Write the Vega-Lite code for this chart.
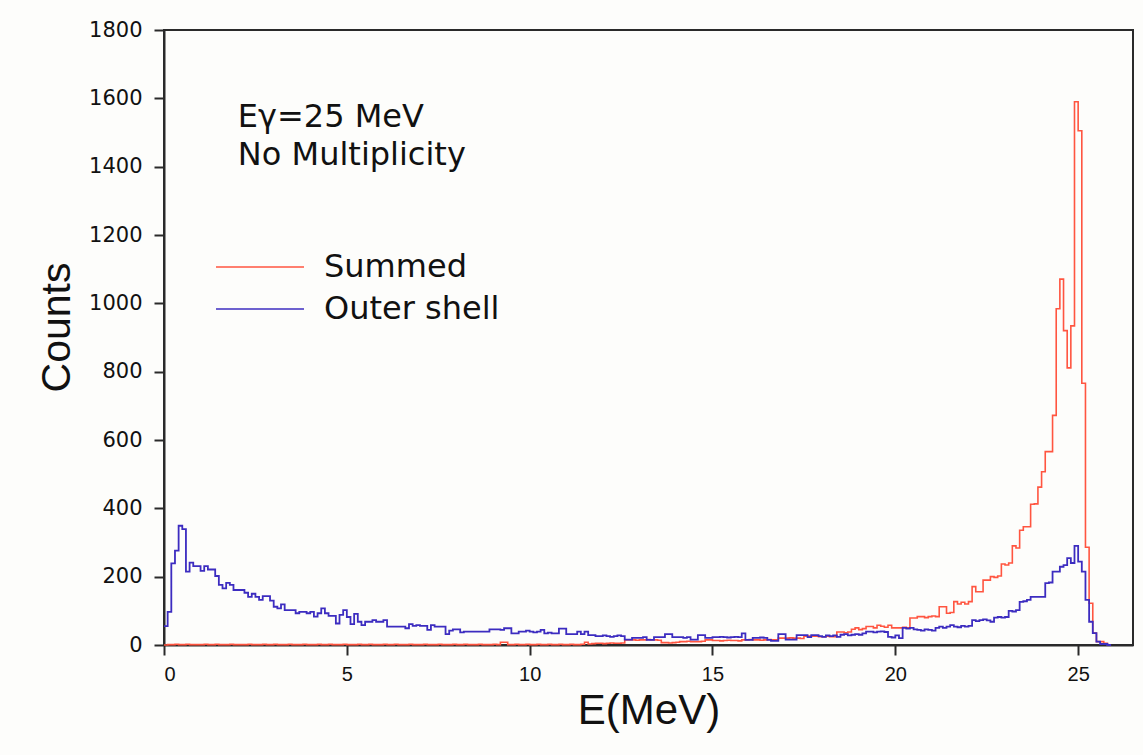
{
  "$schema": "https://vega.github.io/schema/vega-lite/v6.json",
  "width": 969,
  "height": 615,
  "autosize": {"type": "none"},
  "padding": {"left": 164, "top": 30, "right": 10, "bottom": 110},
  "background": "#fdfdfb",
  "config": {
    "view": {"stroke": "#2a2a2a", "strokeWidth": 2},
    "axis": {"grid": false, "domainColor": "#2a2a2a", "domainWidth": 2, "tickColor": "#2a2a2a", "tickWidth": 2, "tickSize": 10, "labelColor": "#111", "titleColor": "#111", "titleFontWeight": "normal"}
  },
  "data": {"values": [
    {"e":0.0,"o":55,"s":0},{"e":0.1,"o":97,"s":1},{"e":0.2,"o":239,"s":1},{"e":0.3,"o":276,"s":2},{"e":0.4,"o":349,"s":1},{"e":0.5,"o":339,"s":1},{"e":0.6,"o":215,"s":2},{"e":0.7,"o":241,"s":1},{"e":0.8,"o":231,"s":1},{"e":0.9,"o":231,"s":1},
    {"e":1.0,"o":217,"s":1},{"e":1.1,"o":231,"s":2},{"e":1.2,"o":221,"s":1},{"e":1.3,"o":221,"s":1},{"e":1.4,"o":202,"s":2},{"e":1.5,"o":176,"s":1},{"e":1.6,"o":166,"s":1},{"e":1.7,"o":182,"s":1},{"e":1.8,"o":176,"s":2},{"e":1.9,"o":161,"s":1},
    {"e":2.0,"o":161,"s":1},{"e":2.1,"o":161,"s":1},{"e":2.2,"o":153,"s":1},{"e":2.3,"o":141,"s":2},{"e":2.4,"o":150,"s":1},{"e":2.5,"o":141,"s":1},{"e":2.6,"o":132,"s":1},{"e":2.7,"o":143,"s":2},{"e":2.8,"o":143,"s":1},{"e":2.9,"o":130,"s":1},
    {"e":3.0,"o":112,"s":2},{"e":3.1,"o":107,"s":1},{"e":3.2,"o":119,"s":1},{"e":3.3,"o":102,"s":1},{"e":3.4,"o":102,"s":2},{"e":3.5,"o":102,"s":1},{"e":3.6,"o":93,"s":1},{"e":3.7,"o":97,"s":1},{"e":3.8,"o":97,"s":2},{"e":3.9,"o":93,"s":1},
    {"e":4.0,"o":97,"s":1},{"e":4.1,"o":83,"s":1},{"e":4.2,"o":93,"s":2},{"e":4.3,"o":107,"s":1},{"e":4.4,"o":93,"s":1},{"e":4.5,"o":85,"s":2},{"e":4.6,"o":85,"s":1},{"e":4.7,"o":63,"s":1},{"e":4.8,"o":88,"s":1},{"e":4.9,"o":102,"s":2},
    {"e":5.0,"o":82,"s":1},{"e":5.1,"o":61,"s":1},{"e":5.2,"o":91,"s":1},{"e":5.3,"o":68,"s":2},{"e":5.4,"o":58,"s":1},{"e":5.5,"o":68,"s":1},{"e":5.6,"o":68,"s":2},{"e":5.7,"o":73,"s":1},{"e":5.8,"o":68,"s":1},{"e":5.9,"o":68,"s":1},
    {"e":6.0,"o":73,"s":2},{"e":6.1,"o":54,"s":1},{"e":6.2,"o":54,"s":1},{"e":6.3,"o":54,"s":2},{"e":6.4,"o":54,"s":1},{"e":6.5,"o":54,"s":1},{"e":6.6,"o":49,"s":1},{"e":6.7,"o":61,"s":2},{"e":6.8,"o":56,"s":1},{"e":6.9,"o":58,"s":1},
    {"e":7.0,"o":56,"s":1},{"e":7.1,"o":56,"s":2},{"e":7.2,"o":44,"s":1},{"e":7.3,"o":58,"s":1},{"e":7.4,"o":54,"s":1},{"e":7.5,"o":54,"s":2},{"e":7.6,"o":54,"s":1},{"e":7.7,"o":32,"s":1},{"e":7.8,"o":42,"s":1},{"e":7.9,"o":46,"s":2},
    {"e":8.0,"o":46,"s":1},{"e":8.1,"o":37,"s":1},{"e":8.2,"o":39,"s":2},{"e":8.3,"o":39,"s":1},{"e":8.4,"o":39,"s":1},{"e":8.5,"o":39,"s":1},{"e":8.6,"o":39,"s":2},{"e":8.7,"o":39,"s":1},{"e":8.8,"o":39,"s":1},{"e":8.9,"o":46,"s":1},
    {"e":9.0,"o":46,"s":2},{"e":9.1,"o":46,"s":1},{"e":9.2,"o":44,"s":8},{"e":9.3,"o":49,"s":8},{"e":9.4,"o":49,"s":1},{"e":9.5,"o":34,"s":1},{"e":9.6,"o":34,"s":2},{"e":9.7,"o":39,"s":1},{"e":9.8,"o":39,"s":1},{"e":9.9,"o":42,"s":2},
    {"e":10.0,"o":39,"s":1},{"e":10.1,"o":37,"s":1},{"e":10.2,"o":39,"s":2},{"e":10.3,"o":44,"s":1},{"e":10.4,"o":34,"s":1},{"e":10.5,"o":36,"s":2},{"e":10.6,"o":34,"s":1},{"e":10.7,"o":34,"s":1},{"e":10.8,"o":48,"s":2},{"e":10.9,"o":48,"s":1},
    {"e":11.0,"o":32,"s":1},{"e":11.1,"o":32,"s":2},{"e":11.2,"o":32,"s":1},{"e":11.3,"o":39,"s":1},{"e":11.4,"o":32,"s":2},{"e":11.5,"o":39,"s":8},{"e":11.6,"o":29,"s":3},{"e":11.7,"o":29,"s":4},{"e":11.8,"o":26,"s":5},{"e":11.9,"o":26,"s":5},
    {"e":12.0,"o":28,"s":4},{"e":12.1,"o":26,"s":5},{"e":12.2,"o":24,"s":6},{"e":12.3,"o":26,"s":5},{"e":12.4,"o":28,"s":5},{"e":12.5,"o":26,"s":6},{"e":12.6,"o":16,"s":15},{"e":12.7,"o":16,"s":15},{"e":12.8,"o":21,"s":15},{"e":12.9,"o":21,"s":14},
    {"e":13.0,"o":21,"s":15},{"e":13.1,"o":23,"s":15},{"e":13.2,"o":15,"s":16},{"e":13.3,"o":15,"s":15},{"e":13.4,"o":23,"s":15},{"e":13.5,"o":23,"s":14},{"e":13.6,"o":23,"s":7},{"e":13.7,"o":32,"s":7},{"e":13.8,"o":32,"s":6},{"e":13.9,"o":23,"s":7},
    {"e":14.0,"o":23,"s":8},{"e":14.1,"o":23,"s":10},{"e":14.2,"o":21,"s":10},{"e":14.3,"o":23,"s":11},{"e":14.4,"o":16,"s":10},{"e":14.5,"o":16,"s":10},{"e":14.6,"o":29,"s":10},{"e":14.7,"o":29,"s":11},{"e":14.8,"o":21,"s":15},{"e":14.9,"o":21,"s":15},
    {"e":15.0,"o":23,"s":13},{"e":15.1,"o":23,"s":13},{"e":15.2,"o":24,"s":12},{"e":15.3,"o":23,"s":13},{"e":15.4,"o":22,"s":14},{"e":15.5,"o":23,"s":13},{"e":15.6,"o":24,"s":13},{"e":15.7,"o":23,"s":12},{"e":15.8,"o":34,"s":15},{"e":15.9,"o":15,"s":15},
    {"e":16.0,"o":15,"s":16},{"e":16.1,"o":21,"s":15},{"e":16.2,"o":21,"s":15},{"e":16.3,"o":22,"s":14},{"e":16.4,"o":21,"s":15},{"e":16.5,"o":15,"s":16},{"e":16.6,"o":12,"s":15},{"e":16.7,"o":12,"s":15},{"e":16.8,"o":32,"s":20},{"e":16.9,"o":32,"s":20},
    {"e":17.0,"o":16,"s":20},{"e":17.1,"o":16,"s":21},{"e":17.2,"o":16,"s":20},{"e":17.3,"o":29,"s":20},{"e":17.4,"o":29,"s":19},{"e":17.5,"o":29,"s":26},{"e":17.6,"o":23,"s":26},{"e":17.7,"o":29,"s":26},{"e":17.8,"o":29,"s":26},{"e":17.9,"o":26,"s":24},
    {"e":18.0,"o":24,"s":24},{"e":18.1,"o":28,"s":26},{"e":18.2,"o":26,"s":24},{"e":18.3,"o":28,"s":24},{"e":18.4,"o":24,"s":38},{"e":18.5,"o":30,"s":38},{"e":18.6,"o":32,"s":36},{"e":18.7,"o":28,"s":38},{"e":18.8,"o":30,"s":46},{"e":18.9,"o":32,"s":50},
    {"e":19.0,"o":30,"s":45},{"e":19.1,"o":34,"s":48},{"e":19.2,"o":39,"s":54},{"e":19.3,"o":39,"s":54},{"e":19.4,"o":37,"s":50},{"e":19.5,"o":39,"s":58},{"e":19.6,"o":40,"s":55},{"e":19.7,"o":38,"s":52},{"e":19.8,"o":24,"s":58},{"e":19.9,"o":22,"s":50},
    {"e":20.0,"o":28,"s":50},{"e":20.1,"o":20,"s":50},{"e":20.2,"o":50,"s":52},{"e":20.3,"o":48,"s":50},{"e":20.4,"o":50,"s":79},{"e":20.5,"o":46,"s":79},{"e":20.6,"o":44,"s":83},{"e":20.7,"o":42,"s":83},{"e":20.8,"o":46,"s":80},{"e":20.9,"o":44,"s":83},
    {"e":21.0,"o":42,"s":85},{"e":21.1,"o":50,"s":83},{"e":21.2,"o":54,"s":112},{"e":21.3,"o":50,"s":112},{"e":21.4,"o":54,"s":93},{"e":21.5,"o":58,"s":95},{"e":21.6,"o":54,"s":127},{"e":21.7,"o":52,"s":120},{"e":21.8,"o":56,"s":125},{"e":21.9,"o":54,"s":120},
    {"e":22.0,"o":56,"s":127},{"e":22.1,"o":73,"s":171},{"e":22.2,"o":70,"s":156},{"e":22.3,"o":73,"s":156},{"e":22.4,"o":75,"s":190},{"e":22.5,"o":72,"s":190},{"e":22.6,"o":68,"s":200},{"e":22.7,"o":80,"s":198},{"e":22.8,"o":82,"s":202},{"e":22.9,"o":80,"s":237},
    {"e":23.0,"o":82,"s":234},{"e":23.1,"o":100,"s":240},{"e":23.2,"o":98,"s":290},{"e":23.3,"o":102,"s":284},{"e":23.4,"o":126,"s":336},{"e":23.5,"o":128,"s":346},{"e":23.6,"o":132,"s":346},{"e":23.7,"o":141,"s":412},{"e":23.8,"o":141,"s":413},{"e":23.9,"o":141,"s":462},
    {"e":24.0,"o":141,"s":507},{"e":24.1,"o":181,"s":566},{"e":24.2,"o":183,"s":566},{"e":24.3,"o":215,"s":672},{"e":24.4,"o":215,"s":984},{"e":24.5,"o":229,"s":1071},{"e":24.6,"o":234,"s":920},{"e":24.7,"o":254,"s":811},{"e":24.8,"o":240,"s":934},{"e":24.9,"o":290,"s":1590},
    {"e":25.0,"o":244,"s":1505},{"e":25.1,"o":215,"s":766},{"e":25.2,"o":132,"s":286},{"e":25.3,"o":68,"s":122},{"e":25.4,"o":35,"s":35},{"e":25.5,"o":10,"s":10},{"e":25.6,"o":3,"s":10},{"e":25.7,"o":3,"s":5},{"e":25.8,"o":0,"s":0},{"e":25.9,"o":0,"s":0}
  ]},
  "layer": [
    {
      "mark": {"type": "line", "interpolate": "step-after", "strokeWidth": 1.6},
      "encoding": {
        "x": {"field": "e", "type": "quantitative", "scale": {"domain": [0, 26.5], "nice": false, "zero": false},
          "axis": {"values": [0, 5, 10, 15, 20, 25], "title": "E(MeV)", "labelFont": "Liberation Sans", "labelFontSize": 20, "labelPadding": 9, "titleFont": "Liberation Sans", "titleFontSize": 42, "titlePadding": 6}},
        "y": {"field": "s", "type": "quantitative", "scale": {"domain": [0, 1800], "nice": false},
          "axis": {"values": [0, 200, 400, 600, 800, 1000, 1200, 1400, 1600, 1800], "format": "d", "title": "Counts", "labelFont": "DejaVu Sans", "labelFontSize": 21, "labelPadding": 12, "titleFont": "Liberation Sans", "titleFontSize": 41, "titlePadding": 10, "titleY": 297}},
        "color": {"datum": "Summed", "type": "nominal",
          "scale": {"domain": ["Summed", "Outer shell"], "range": ["#ff5540", "#3c2cc0"]},
          "legend": {"orient": "none", "legendX": 51, "legendY": 216, "title": null, "symbolType": "stroke", "symbolSize": 7744, "symbolStrokeWidth": 1.6, "clipHeight": 42, "rowPadding": 0, "labelOffset": 19, "labelFont": "DejaVu Sans", "labelFontSize": 32, "labelColor": "#111", "padding": 0, "labelLimit": 400}}
      }
    },
    {
      "mark": {"type": "line", "interpolate": "step-after", "strokeWidth": 1.8},
      "encoding": {
        "x": {"field": "e", "type": "quantitative"},
        "y": {"field": "o", "type": "quantitative"},
        "color": {"datum": "Outer shell", "type": "nominal"}
      }
    },
    {
      "data": {"values": [{"label": "Eγ=25 MeV", "row": "a"}]},
      "mark": {"type": "text", "align": "left", "baseline": "alphabetic", "font": "DejaVu Sans", "fontSize": 32, "color": "#111"},
      "encoding": {
        "x": {"datum": 2.02},
        "y": {"datum": 1516},
        "text": {"field": "label"}
      }
    },
    {
      "data": {"values": [{"label": "No Multiplicity", "row": "b"}]},
      "mark": {"type": "text", "align": "left", "baseline": "alphabetic", "font": "DejaVu Sans", "fontSize": 32, "color": "#111"},
      "encoding": {
        "x": {"datum": 2.02},
        "y": {"datum": 1406},
        "text": {"field": "label"}
      }
    }
  ]
}
